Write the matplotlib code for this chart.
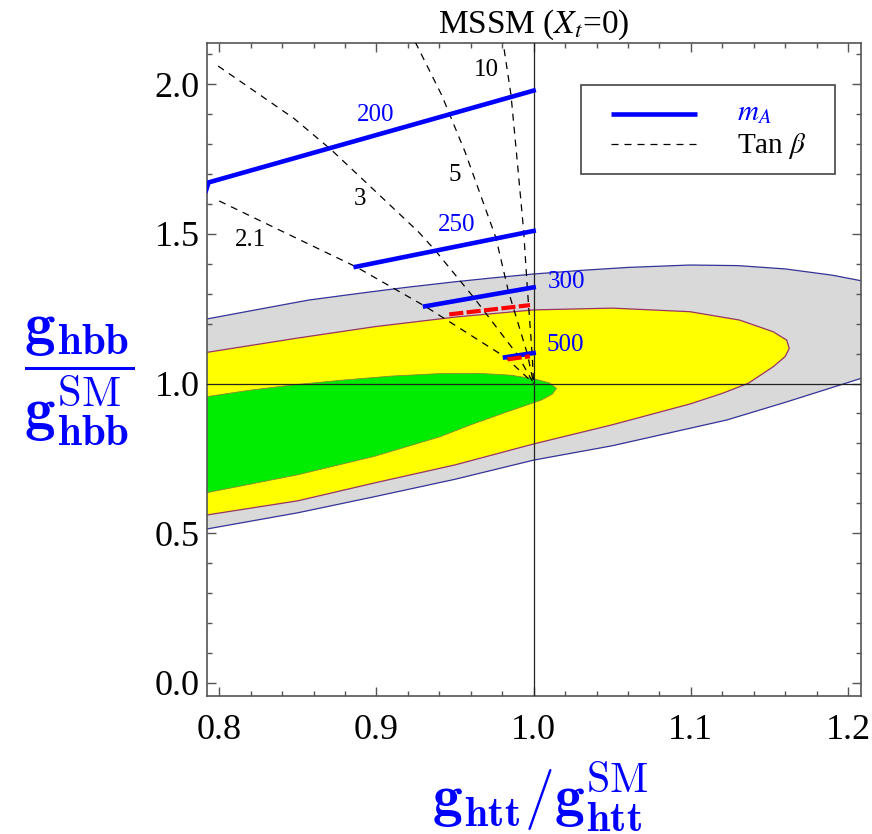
import numpy as np
import matplotlib.pyplot as plt
from matplotlib.patches import Rectangle
from matplotlib.ticker import MultipleLocator

plt.rcParams['font.family'] = ['Liberation Serif', 'DejaVu Serif']
plt.rcParams['mathtext.fontset'] = 'stix'

# fit regions (outlines)
gray_x = [0.76, 0.792, 0.82, 0.857, 0.89, 0.92, 0.95, 0.972, 1.0, 1.03, 1.06, 1.0994, 1.13, 1.16,
          1.19, 1.2082, 1.23, 1.25, 1.27, 1.285, 1.29, 1.285, 1.27, 1.25, 1.2082, 1.16, 1.1228,
          1.05, 1.0, 0.95, 0.899, 0.85, 0.792, 0.76]
gray_y = [1.185, 1.2156, 1.243, 1.279, 1.302, 1.322, 1.340, 1.352, 1.366, 1.378, 1.388, 1.396, 1.394, 1.383,
          1.362, 1.3436, 1.315, 1.285, 1.245, 1.2, 1.15, 1.11, 1.075, 1.05, 1.017, 0.937, 0.878,
          0.792, 0.744, 0.68, 0.622, 0.568, 0.5137, 0.48]
yellow_x = [0.76, 0.792, 0.85, 0.899, 0.95, 1.0, 1.05, 1.0994, 1.131, 1.1524, 1.161, 1.1626,
            1.16, 1.1524, 1.1365, 1.12, 1.0994, 1.05, 1.0, 0.95, 0.899, 0.85, 0.792, 0.76]
yellow_y = [1.08, 1.104, 1.152, 1.190, 1.222, 1.246, 1.252, 1.240, 1.212, 1.173, 1.145, 1.1176,
            1.09, 1.056, 1.0007, 0.967, 0.9315, 0.862, 0.798, 0.728, 0.668, 0.608, 0.5605, 0.53]
green_x = [0.76, 0.792, 0.82, 0.85, 0.88, 0.91, 0.94, 0.965, 0.985, 1.0, 1.01, 1.0145,
           1.012, 1.005, 0.983, 0.96, 0.9404, 0.92, 0.899, 0.85, 0.792, 0.76]
green_y = [0.93, 0.956, 0.978, 0.997, 1.012, 1.025, 1.033, 1.034, 1.028, 1.016, 1.002, 0.984,
           0.965, 0.945, 0.905, 0.862, 0.822, 0.79, 0.757, 0.695, 0.635, 0.60]

# tan(beta) contours
tb21_x = [0.800, 0.845, 0.887, 0.931, 0.982, 1.0]
tb21_y = [1.61, 1.496, 1.39, 1.258, 1.088, 1.0]
tb3_x = [0.7993, 0.8475, 0.8715, 0.9267, 0.9372, 0.962, 0.990, 1.0]
tb3_y = [2.061, 1.886, 1.78, 1.507, 1.446, 1.287, 1.094, 1.0]
tb5_x = [0.921, 0.9415, 0.9563, 0.976, 0.984, 0.996, 1.0]
tb5_y = [2.18, 1.964, 1.775, 1.487, 1.307, 1.099, 1.0]
tb10_x = [0.980, 0.9856, 0.9892, 0.9936, 0.996, 0.999, 1.0]
tb10_y = [2.16, 1.964, 1.764, 1.513, 1.318, 1.101, 1.0]
tb_labels = ['2.1', '3', '5', '10']
tb_lab_x = [0.8196, 0.8894, 0.950, 0.9702]
tb_lab_y = [1.479, 1.616, 1.696, 2.047]

# m_A lines
ma200_x = [0.7916, 0.7932, 1.0]
ma200_y = [1.645, 1.672, 1.979]
ma250_x = [0.8868, 1.0]
ma250_y = [1.390, 1.510]
ma300_x = [0.9309, 1.0]
ma300_y = [1.258, 1.3215]
ma500_x = [0.9818, 1.0]
ma500_y = [1.0875, 1.102]
ma_labels = ['200', '250', '300', '500']
ma_lab_x = [0.8997, 0.951, 1.0212, 1.0199]
ma_lab_y = [1.897, 1.530, 1.339, 1.128]

# red dashed pieces
red1_x = [0.9463, 0.9977]
red1_y = [1.231, 1.262]
red2_x = [0.9834, 0.9977]
red2_y = [1.081, 1.091]

fig = plt.figure(figsize=(8.72, 8.34), dpi=100)
ax = fig.add_axes([0.2370, 0.1658, 0.7503, 0.7830])

ax.fill(gray_x, gray_y, fc='#d9d9d9', ec='#333399', lw=0.9, zorder=1)
ax.fill(yellow_x, yellow_y, fc='#ffff00', ec='#993366', lw=0.9, zorder=2)
ax.fill(green_x, green_y, fc='#00ec00', ec='#888833', lw=0.6, zorder=2.5)

ax.axvline(1.0, color='#222222', lw=0.9, zorder=3)
ax.axhline(1.0, color='#222222', lw=0.9, zorder=3)

for xs, ys in [(tb21_x, tb21_y), (tb3_x, tb3_y), (tb5_x, tb5_y), (tb10_x, tb10_y)]:
    ax.plot(xs, ys, color='k', lw=0.9, dashes=(5.6, 4.8), zorder=4)
for lab, x, y in zip(tb_labels, tb_lab_x, tb_lab_y):
    ax.text(x, y, lab, fontsize=18, color='k', ha='center', va='center', zorder=7)

for xs, ys in [(ma200_x, ma200_y), (ma250_x, ma250_y), (ma300_x, ma300_y), (ma500_x, ma500_y)]:
    ax.plot(xs, ys, color='blue', lw=3.3, zorder=5)
for lab, x, y in zip(ma_labels, ma_lab_x, ma_lab_y):
    ax.text(x, y, lab, fontsize=18, color='blue', ha='center', va='center', zorder=7)

for xs, ys in [(red1_x, red1_y), (red2_x, red2_y)]:
    ax.plot(xs, ys, color='red', lw=3.0, dashes=(3.4, 0.8), zorder=6)

ax.set_xlim(0.792, 1.2082)
ax.set_ylim(-0.0434, 2.139)
ax.set_xticks([0.8, 0.9, 1.0, 1.1, 1.2])
ax.set_xticklabels(['0.8', '0.9', '1.0', '1.1', '1.2'])
ax.set_yticks([0.0, 0.5, 1.0, 1.5, 2.0])
ax.set_yticklabels(['0.0', '0.5', '1.0', '1.5', '2.0'])
ax.xaxis.set_minor_locator(MultipleLocator(0.02))
ax.yaxis.set_minor_locator(MultipleLocator(0.1))
ax.tick_params(which='both', direction='in', top=True, right=True, color='#555555', width=1)
ax.tick_params(which='major', length=6.5, labelsize=26)
ax.tick_params(which='minor', length=3.7)
ax.tick_params(axis='x', pad=13)
ax.tick_params(axis='y', pad=5)
for s in ax.spines.values():
    s.set_color('#555555')
    s.set_linewidth(1.2)

ax.set_title('MSSM ($X_t$=0)', fontsize=24, pad=7)
ax.set_xlabel(r'$\mathbf{g}_{\mathbf{htt}}/\mathbf{g}^{\mathrm{SM}}_{\mathbf{htt}}$',
              fontsize=43, color='blue', math_fontfamily='cm', va='top')
ax.xaxis.set_label_coords(0.51, -0.098)
ax.set_ylabel(r'$\dfrac{\mathbf{g}_{\mathbf{hbb}}}{\mathbf{g}^{\mathrm{SM}}_{\mathbf{hbb}}}$',
              fontsize=44, color='blue', math_fontfamily='cm', rotation=0, ha='center', va='center')
ax.yaxis.set_label_coords(-0.195, 0.481)

# legend box drawn in axes coordinates
T = ax.transAxes
ax.add_patch(Rectangle((0.5729, 0.7989), 0.3874, 0.1363, transform=T, fc='white',
                       ec='#444444', lw=1.2, zorder=10))
ax.plot([0.618, 0.7487], [0.8905, 0.8905], transform=T, color='blue', lw=3.3,
        solid_capstyle='butt', zorder=11)
ax.plot([0.618, 0.7487], [0.8446, 0.8446], transform=T, color='k', lw=0.9,
        dashes=(5.6, 4.8), zorder=11)
ax.text(0.8105, 0.881, '$m_A$', transform=T, fontsize=21, color='blue', va='baseline', zorder=11)
ax.text(0.8105, 0.8311, r'Tan $\beta$', transform=T, fontsize=21, color='k', va='baseline', zorder=11)

fig.savefig('out.png', dpi=100)
